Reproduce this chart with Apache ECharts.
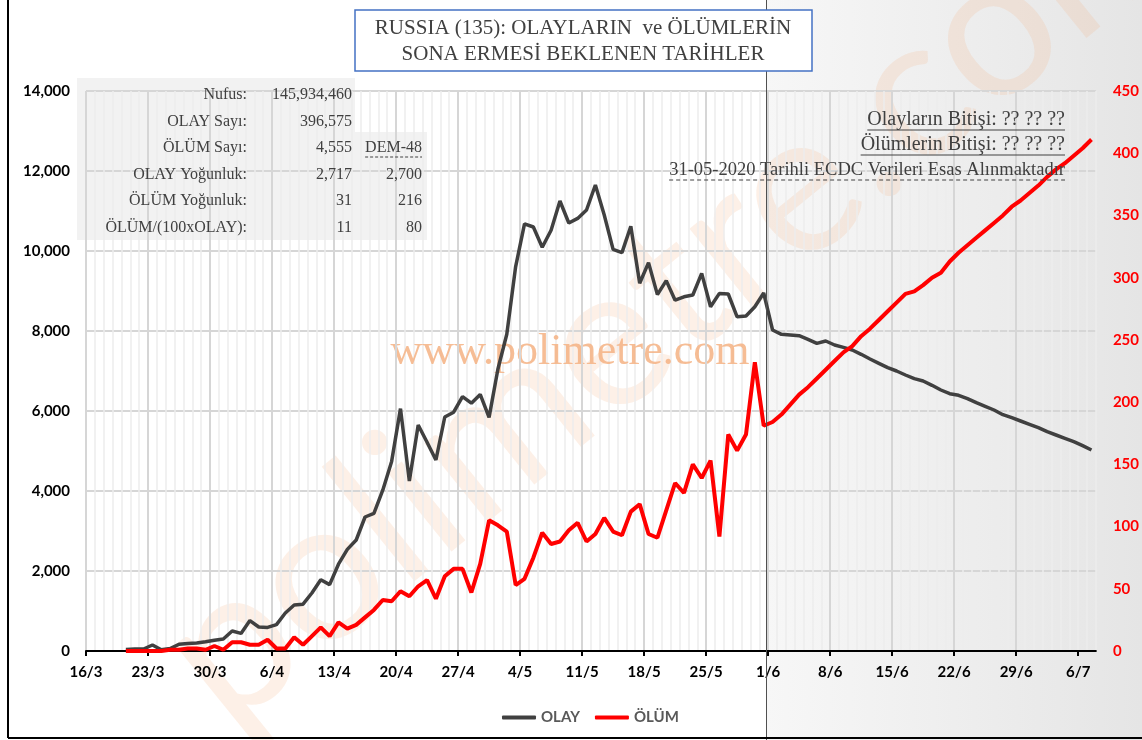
<!DOCTYPE html>
<html>
<head>
<meta charset="utf-8">
<script src="https://cdn.jsdelivr.net/npm/echarts@6/dist/echarts.min.js"></script>
<style>
  html, body { margin: 0; padding: 0; background: #fff; }
  #chart { width: 1142px; height: 740px; }
</style>
</head>
<body>
<div id="chart"></div>
<script>
// x ekseni: 16/3'ten itibaren gün sayısı, haftalık etiketler
const weekLabels = ['16/3', '23/3', '30/3', '6/4', '13/4', '20/4', '27/4', '4/5', '11/5',
  '18/5', '25/5', '1/6', '8/6', '15/6', '22/6', '29/6', '6/7'];
const firstDay = 4; // ilk veri: 20/3

// günlük OLAY (vaka) sayıları, 20/3 -> 7/7 (31/5 sonrası tahmin)
const olay = [
  40, 50, 50, 150, 30, 60, 170, 190, 200, 230,
  270, 300, 500, 440, 760, 600, 590, 660, 950, 1150,
  1170, 1450, 1780, 1660, 2170, 2540, 2775, 3350, 3440, 4020,
  4740, 6060, 4250, 5650, 5220, 4775, 5850, 5970, 6360, 6195,
  6415, 5840, 7050, 7920, 9610, 10680, 10600, 10095, 10520, 11250,
  10700, 10815, 11025, 11650, 10900, 10040, 9960, 10620, 9195, 9710,
  8910, 9260, 8770, 8855, 8900, 9440, 8605, 8940, 8925, 8355,
  8375, 8605, 8950,
  8025, 7917, 7900, 7883, 7792, 7692, 7750, 7650, 7592, 7525,
  7417, 7300, 7192, 7083, 7000, 6900, 6808, 6750, 6642, 6525,
  6433, 6392, 6308, 6208, 6117, 6025, 5908, 5833, 5750, 5667,
  5583, 5483, 5400, 5317, 5233, 5133, 5025
];

// günlük ÖLÜM sayıları, 20/3 -> 7/7 (31/5 sonrası tahmin)
const olum = [
  0, 0, 0, 0, 0, 1, 1, 2, 2, 1,
  4, 1, 7, 7, 5, 5, 9, 2, 2, 11,
  5, 12, 19, 12, 23, 18, 21, 27, 33, 41,
  40, 48, 44, 52, 57, 42, 60, 66, 66, 47,
  70, 105, 101, 96, 53, 58, 75, 95, 86, 88,
  97, 103, 88, 94, 107, 96, 93, 112, 118, 94,
  91, 113, 135, 127, 150, 139, 153, 92, 174, 161,
  174, 232, 181,
  184, 190, 198, 206, 212, 219, 226, 233, 240, 245,
  253, 259, 266, 273, 280, 287, 289, 294, 300, 304,
  313, 320, 326, 332, 338, 344, 350, 357, 362, 368,
  374, 381, 387, 392, 398, 404, 411
];

// sol üstteki bilgi tablosu
const statLabels = ['Nufus:', 'OLAY Sayı:', 'ÖLÜM Sayı:', 'OLAY Yoğunluk:', 'ÖLÜM Yoğunluk:', 'ÖLÜM/(100xOLAY):'];
const statVals = ['145,934,460', '396,575', '4,555', '2,717', '31', '11'];
const statVals2 = ['', '', 'DEM-48', '2,700', '216', '80'];

const titleLines = ['RUSSIA (135): OLAYLARIN  ve ÖLÜMLERİN', 'SONA ERMESİ BEKLENEN TARİHLER'];
const noteLines = ['Olayların Bitişi: ?? ?? ??', 'Ölümlerin Bitişi: ?? ?? ??', '31-05-2020 Tarihli ECDC Verileri Esas Alınmaktadır'];

const tickVals = weekLabels.map((_, i) => i * 7);
const toPoints = arr => arr.map((v, i) => [firstDay + i + 0.5, v]);

const measure = document.createElement('canvas').getContext('2d');
function textW(t, font) { measure.font = font; return measure.measureText(t).width; }

const serif = '"Liberation Serif", "DejaVu Serif", serif';
const gray = '#404040';

const graphics = [];

// 31/5 sonrası gri tahmin bölgesi
graphics.push({
  type: 'rect', z: -10, silent: true,
  shape: { x: 766, y: 0, width: 376, height: 740 },
  style: { fill: new echarts.graphic.LinearGradient(0, 0, 1, 0, [
    { offset: 0, color: '#f7f7f7' }, { offset: 1, color: '#e5e5e5' }
  ]) }
});

// büyük çapraz filigran
graphics.push({
  type: 'text', z: -6, silent: true, x: 250, y: 760, rotation: 0.68,
  style: { text: 'polimetre.com', font: '200px Lato', fill: 'rgba(246,178,133,0.2)', align: 'left', verticalAlign: 'bottom' }
});

// tablo arka planı
graphics.push({ type: 'rect', z: -8, silent: true, shape: { x: 77, y: 78, width: 278, height: 54 }, style: { fill: '#f2f2f2' } });
graphics.push({ type: 'rect', z: -8, silent: true, shape: { x: 77, y: 132, width: 350, height: 108 }, style: { fill: '#f2f2f2' } });

const rowY = [95, 122, 148, 175, 201, 228];
const tFont = '16px ' + serif;
statLabels.forEach((lab, i) => {
  graphics.push({ type: 'text', z: 5, x: 247, y: rowY[i], style: { text: lab, font: tFont, fill: gray, align: 'right', verticalAlign: 'middle' } });
  graphics.push({ type: 'text', z: 5, x: 352, y: rowY[i], style: { text: statVals[i], font: tFont, fill: gray, align: 'right', verticalAlign: 'middle' } });
  if (statVals2[i]) {
    graphics.push({ type: 'text', z: 5, x: 422, y: rowY[i], style: { text: statVals2[i], font: tFont, fill: gray, align: 'right', verticalAlign: 'middle' } });
  }
});
// DEM-48 altı çizgisi
const demW = textW('DEM-48', tFont);
graphics.push({ type: 'line', z: 5, shape: { x1: 422 - demW, y1: rowY[2] + 9, x2: 422, y2: rowY[2] + 9 }, style: { stroke: gray, lineWidth: 1.2, lineDash: [3, 2] } });

// başlık kutusu
graphics.push({ type: 'rect', z: 10, shape: { x: 355, y: 10, width: 457, height: 61 }, style: { fill: '#fff', stroke: '#4472c4', lineWidth: 1.5 } });
titleLines.forEach((t, i) => {
  graphics.push({ type: 'text', z: 11, x: 583, y: 28 + i * 26, style: { text: t, font: '21px ' + serif, fill: gray, align: 'center', verticalAlign: 'middle' } });
});

// sağ üstteki notlar
const noteFonts = ['20px ' + serif, '20px ' + serif, '18.5px ' + serif];
const noteY = [120, 145, 170];
noteLines.forEach((t, i) => {
  graphics.push({ type: 'text', z: 5, x: 1065, y: noteY[i], style: { text: t, font: noteFonts[i], fill: gray, align: 'right', verticalAlign: 'middle' } });
  const w = textW(t, noteFonts[i]);
  graphics.push({ type: 'line', z: 5, shape: { x1: 1065 - w, y1: noteY[i] + 10, x2: 1065, y2: noteY[i] + 10 },
    style: { stroke: gray, lineWidth: 1, lineDash: i === 2 ? [4, 3] : null } });
});

// ortadaki filigran yazısı
graphics.push({ type: 'text', z: 1, silent: true, x: 570, y: 352,
  style: { text: 'www.polimetre.com', font: '44px ' + serif, fill: 'rgba(244,177,131,0.85)', align: 'center', verticalAlign: 'middle' } });

// 31/5 ayırıcı çizgisi ve çerçeve
graphics.push({ type: 'line', z: 5, shape: { x1: 766.5, y1: 0, x2: 766.5, y2: 740 }, style: { stroke: '#505050', lineWidth: 1 } });
graphics.push({ type: 'line', z: 20, shape: { x1: 8, y1: 0, x2: 8, y2: 738 }, style: { stroke: '#000', lineWidth: 2 } });
graphics.push({ type: 'line', z: 20, shape: { x1: 8, y1: 738, x2: 1142, y2: 738 }, style: { stroke: '#000', lineWidth: 2 } });

const chart = echarts.init(document.getElementById('chart'));

const axisFont = { fontFamily: 'Lato', fontWeight: 'bold', fontSize: 15 };

chart.setOption({
  animation: false,
  backgroundColor: '#fff',
  grid: { left: 86, right: 39, top: 91, bottom: 89 },
  legend: {
    data: ['OLAY', 'ÖLÜM'],
    left: 497, top: 705,
    icon: 'roundRect', itemWidth: 34, itemHeight: 4, itemGap: 15,
    textStyle: { color: '#595959', fontFamily: 'Lato', fontWeight: 'bold', fontSize: 15 }
  },
  xAxis: [
    {
      type: 'value', min: 0, max: 114, interval: 7, z: 1,
      axisLine: { show: true, onZero: false, lineStyle: { color: '#000', width: 2 } },
      axisTick: { show: true, length: 5, customValues: tickVals, lineStyle: { color: '#000', width: 2 } },
      axisLabel: {
        customValues: tickVals, margin: 14, color: '#000', ...axisFont,
        formatter: v => weekLabels[Math.round(v / 7)] || ''
      },
      splitLine: { show: true, showMaxLine: false, lineStyle: { color: '#d6d6d6', width: 2 } }
    },
    {
      type: 'value', min: 0, max: 114, interval: 1, position: 'top',
      axisLine: { show: false }, axisTick: { show: false }, axisLabel: { show: false },
      splitLine: { show: true, lineStyle: { color: '#ececec', width: 1.5 } }
    }
  ],
  yAxis: [
    {
      type: 'value', min: 0, max: 14000, interval: 2000,
      axisLine: { show: false }, axisTick: { show: false },
      axisLabel: { margin: 16, color: '#000', ...axisFont, formatter: v => v.toLocaleString('en-US') },
      splitLine: { show: true, lineStyle: { color: '#d6d6d6', width: 2 } }
    },
    {
      type: 'value', min: 0, max: 450, interval: 50, position: 'right',
      axisLine: { show: false }, axisTick: { show: false },
      axisLabel: { margin: 17, color: '#ff0000', ...axisFont },
      splitLine: { show: false }
    }
  ],
  series: [
    {
      name: 'OLAY', type: 'line', xAxisIndex: 0, yAxisIndex: 0,
      data: toPoints(olay), symbol: 'none', color: '#404040',
      lineStyle: { color: '#404040', width: 3.5 }
    },
    {
      name: 'ÖLÜM', type: 'line', xAxisIndex: 0, yAxisIndex: 1,
      data: toPoints(olum), symbol: 'none', color: '#ff0000',
      lineStyle: { color: '#ff0000', width: 4 }
    }
  ],
  graphic: { elements: graphics }
});
</script>
</body>
</html>
